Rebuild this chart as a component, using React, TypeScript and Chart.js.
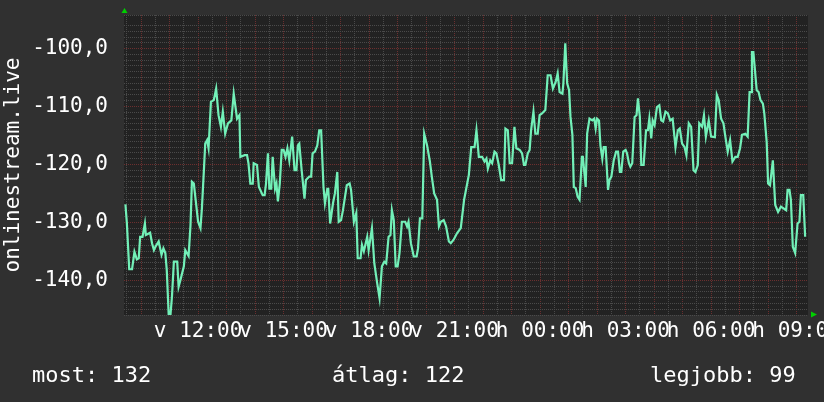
import React, { useEffect, useRef } from 'react';
import { Chart, registerables } from 'chart.js';

Chart.register(...registerables);

// minutes since 09:24 (window start), and signal values
const TIMES = [
  3, 6, 8, 11, 17, 22, 27, 31, 34, 39,
  44, 46, 55, 59, 63, 67, 73, 79, 83, 87,
  90, 94, 98, 101, 105, 112, 115, 119, 126, 129,
  136, 140, 143, 147, 156, 161, 164, 168, 171, 175,
  178, 183, 189, 194, 199, 204, 208, 213, 219, 226,
  231, 238, 243, 245, 254, 259, 262, 266, 271, 273,
  280, 284, 292, 296, 299, 303, 306, 310, 313, 318,
  321, 324, 328, 332, 336, 340, 344, 348, 354, 359,
  363, 366, 369, 374, 380, 383, 390, 394, 397, 402,
  407, 411, 415, 420, 423, 428, 430, 434, 440, 444,
  449, 452, 457, 461, 469, 475, 478, 484, 489, 492,
  498, 501, 505, 512, 515, 522, 527, 533, 538, 543,
  548, 552, 557, 561, 564, 568, 572, 576, 580, 585,
  592, 596, 599, 604, 610, 616, 619, 623, 628, 632,
  638, 644, 648, 653, 659, 663, 667, 673, 678, 684,
  688, 694, 701, 709, 716, 726, 731, 738, 742, 747,
  754, 759, 763, 766, 771, 775, 780, 784, 789, 794,
  800, 803, 808, 812, 817, 822, 826, 833, 838, 842,
  845, 850, 854, 857, 862, 866, 871, 875, 880, 887,
  892, 898, 903, 909, 913, 917, 923, 925, 929, 930,
  933, 937, 940, 944, 947, 951, 955, 959, 964, 966,
  969, 972, 975, 980, 986, 990, 993, 996, 1000, 1003,
  1007, 1010, 1014, 1019, 1022, 1026, 1031, 1036, 1040, 1044,
  1047, 1051, 1056, 1059, 1063, 1066, 1070, 1075, 1079, 1082,
  1086, 1089, 1094, 1099, 1103, 1106, 1110, 1113, 1117, 1122,
  1127, 1131, 1135, 1140, 1145, 1150, 1155, 1161, 1166, 1170,
  1175, 1180, 1184, 1189, 1194, 1199, 1203, 1208, 1211, 1217,
  1221, 1225, 1231, 1236, 1244, 1248, 1252, 1257, 1262, 1266,
  1271, 1276, 1281, 1287, 1292, 1297, 1301, 1308, 1313, 1317,
  1320, 1322, 1325, 1328, 1332, 1336, 1340, 1345, 1348, 1353,
  1356, 1360, 1366, 1371, 1377, 1383, 1394, 1397, 1401, 1404,
  1408, 1413, 1418, 1422, 1425, 1430, 1434,
];

const VALUES = [
  -126.9, -130.1, -133.3, -138.1, -138.1, -135.1, -136.4, -136.2, -132.5, -132.5,
  -130.2, -132.2, -131.8, -133.6, -134.8, -134.1, -133.3, -135.6, -134.5, -135.3,
  -138.2, -145.8, -145.8, -142.8, -136.8, -136.8, -141.1, -139.9, -137.6, -134.8,
  -135.8, -130.5, -123.0, -123.3, -129.9, -131.0, -127.6, -121.3, -116.4, -115.8,
  -117.2, -109.2, -108.9, -106.9, -111.5, -113.5, -110.9, -114.7, -112.9, -112.4,
  -107.8, -112.1, -111.5, -118.7, -118.4, -118.4, -119.8, -123.3, -123.3, -119.8,
  -120.1, -123.9, -125.3, -125.3, -123.3, -118.1, -124.2, -124.2, -118.7, -124.2,
  -123.3, -126.4, -123.3, -117.5, -117.5, -118.7, -117.2, -119.3, -115.2, -121.0,
  -121.0, -116.7, -116.4, -121.0, -125.9, -122.7, -122.1, -122.1, -118.1, -117.8,
  -116.7, -114.1, -114.1, -123.9, -126.7, -124.2, -124.2, -130.2, -126.7, -125.0,
  -121.3, -129.9, -129.6, -127.9, -123.6, -123.3, -124.4, -129.9, -128.4, -136.2,
  -136.2, -133.9, -135.0, -132.5, -134.8, -131.0, -137.1, -140.5, -143.1, -137.6,
  -136.8, -137.1, -132.5, -132.2, -127.9, -129.6, -137.6, -137.6, -135.3, -129.9,
  -129.9, -130.7, -129.9, -133.6, -135.9, -135.9, -134.5, -129.3, -129.3, -114.7,
  -116.7, -119.5, -122.1, -125.0, -126.1, -130.7, -129.9, -129.6, -130.7, -133.3,
  -133.6, -133.0, -131.9, -131.0, -126.1, -121.8, -117.0, -117.0, -114.1, -118.7,
  -118.7, -119.5, -119.0, -120.7, -119.3, -119.8, -117.8, -118.1, -120.1, -122.7,
  -122.7, -113.8, -114.1, -119.8, -119.8, -113.5, -117.2, -117.5, -118.1, -120.1,
  -120.1, -118.1, -117.5, -114.1, -110.9, -114.7, -114.7, -111.5, -111.2, -110.6,
  -104.6, -104.6, -106.9, -105.7, -104.3, -107.5, -107.8, -106.0, -99.1, -99.1,
  -106.0, -107.2, -111.8, -114.9, -123.9, -124.1, -125.6, -126.1, -118.7, -118.7,
  -121.3, -123.9, -114.7, -112.1, -112.4, -112.1, -113.8, -112.1, -112.4, -116.7,
  -119.0, -117.0, -117.0, -124.4, -122.7, -122.1, -119.3, -117.8, -117.8, -121.3,
  -121.3, -117.8, -117.5, -118.1, -119.8, -120.4, -119.8, -111.8, -111.5, -108.6,
  -111.8, -120.1, -120.1, -114.1, -114.1, -112.1, -115.5, -112.4, -113.2, -110.1,
  -109.8, -112.4, -112.6, -110.9, -111.2, -112.4, -112.1, -117.0, -114.1, -113.8,
  -116.4, -117.0, -118.4, -112.9, -113.5, -121.0, -121.3, -120.1, -112.9, -113.5,
  -111.5, -115.2, -112.4, -115.2, -115.3, -108.0, -108.9, -112.1, -112.9, -115.2,
  -117.8, -115.8, -119.5, -118.7, -118.7, -117.2, -114.9, -114.7, -115.2, -107.5,
  -107.5, -100.6, -100.6, -103.4, -107.2, -107.5, -108.9, -109.5, -111.2, -116.1,
  -123.3, -123.6, -119.3, -127.0, -128.2, -127.3, -127.9, -124.4, -124.4, -126.1,
  -134.2, -135.3, -130.2, -129.9, -125.3, -125.3, -132.5,
];

// x axis: minutes since 09:24
const X_MIN = 0;
const X_MAX = 1440;
const Y_MIN = -146.0;
const Y_MAX = -94.2;

// half-hour grid positions (09:30, 10:00, ...), full hours are major
const GRID_TIMES = [
  6, 36, 66, 96, 126, 156, 186, 216, 246, 276, 306, 336, 366, 396, 426, 456,
  486, 516, 546, 576, 606, 636, 666, 696, 726, 756, 786, 816, 846, 876, 906,
  936, 966, 996, 1026, 1056, 1086, 1116, 1146, 1176, 1206, 1236, 1266, 1296,
  1326, 1356, 1386, 1416,
];
const MAJOR_TIMES = [
  36, 96, 156, 216, 276, 336, 396, 456, 516, 576, 636, 696, 756, 816, 876,
  936, 996, 1056, 1116, 1176, 1236, 1296, 1356, 1416,
];
const LABEL_TIMES = [156, 336, 516, 696, 876, 1056, 1236, 1416];
const LABEL_TEXTS = ['v 12:00', 'v 15:00', 'v 18:00', 'v 21:00', 'h 00:00', 'h 03:00', 'h 06:00', 'h 09:00'];

const Y_TITLE = 'onlinestream.live';
const LEGEND_TEXTS = ['most: 132', 'átlag: 122', 'legjobb: 99'];
const LEGEND_X = [32, 332, 650];

const BG = '#303030';
const PLOT_BG = '#222222';
const GRID_MINOR = '#4a4a4a';
const GRID_MAJOR = '#6c2f2f';
const LINE_COLOR = '#72f0b8';
const TEXT_COLOR = '#ffffff';
const ARROW_COLOR = '#00d000';
const MONO = '"DejaVu Sans Mono", monospace';

const decorPlugin = {
  id: 'decor',
  beforeDraw(chart: any) {
    const { ctx, chartArea: a, width, height } = chart;
    ctx.save();
    ctx.fillStyle = BG;
    ctx.fillRect(0, 0, width, height);
    ctx.fillStyle = PLOT_BG;
    ctx.fillRect(a.left, a.top, a.right - a.left, a.bottom - a.top);
    ctx.restore();
  },
  afterDraw(chart: any) {
    const { ctx, chartArea: a } = chart;
    ctx.save();
    ctx.fillStyle = ARROW_COLOR;
    ctx.beginPath();
    ctx.moveTo(a.left + 0.5, a.top - 7);
    ctx.lineTo(a.left - 2.5, a.top - 2);
    ctx.lineTo(a.left + 3.5, a.top - 2);
    ctx.closePath();
    ctx.fill();
    ctx.beginPath();
    ctx.moveTo(a.right + 9, a.bottom - 0.5);
    ctx.lineTo(a.right + 3, a.bottom - 3.5);
    ctx.lineTo(a.right + 3, a.bottom + 2.5);
    ctx.closePath();
    ctx.fill();

    ctx.fillStyle = TEXT_COLOR;
    ctx.font = '22px ' + MONO;
    ctx.textAlign = 'left';
    ctx.textBaseline = 'alphabetic';
    LEGEND_TEXTS.forEach((t, i) => ctx.fillText(t, LEGEND_X[i], 381.5));
    ctx.restore();
  },
};

function isWhole(v: number) {
  return Math.abs(v - Math.round(v)) < 1e-6;
}

export default function App() {
  const ref = useRef<HTMLCanvasElement | null>(null);

  useEffect(() => {
    document.body.style.margin = '0';
    document.body.style.background = BG;
    const canvas = ref.current;
    if (!canvas) return;
    const chart = new Chart(canvas, {
      type: 'line',
      data: {
        datasets: [
          {
            data: TIMES.map((t, i) => ({ x: t, y: VALUES[i] })),
            borderColor: LINE_COLOR,
            borderWidth: 2.2,
            pointRadius: 0,
            tension: 0,
            fill: false,
            clip: 0,
          } as any,
        ],
      },
      options: {
        animation: false,
        responsive: false,
        devicePixelRatio: 1,
        layout: { padding: { left: 0, right: 16, top: 15, bottom: 0 } },
        plugins: { legend: { display: false }, tooltip: { enabled: false } },
        scales: {
          x: {
            type: 'linear',
            min: X_MIN,
            max: X_MAX,
            afterBuildTicks: (s: any) => {
              s.ticks = GRID_TIMES.map((v) => ({ value: v }));
            },
            afterFit: (s: any) => {
              s.height = 87;
              s.paddingLeft = 0;
              s.paddingRight = 0;
            },
            ticks: {
              autoSkip: false,
              maxRotation: 0,
              minRotation: 0,
              padding: 4,
              color: TEXT_COLOR,
              font: { family: MONO, size: 21 },
              callback: (v: any) => {
                const i = LABEL_TIMES.indexOf(Number(v));
                return i >= 0 ? LABEL_TEXTS[i] : '';
              },
            },
            grid: {
              drawTicks: false,
              lineWidth: 1,
              color: (c: any) =>
                c.tick && MAJOR_TIMES.indexOf(c.tick.value) >= 0 ? GRID_MAJOR : GRID_MINOR,
            },
            border: { display: false, dash: [1, 1] },
          } as any,
          y: {
            type: 'linear',
            min: Y_MIN,
            max: Y_MAX,
            afterFit: (s: any) => {
              s.width = 124;
              s.paddingTop = 0;
              s.paddingBottom = 0;
            },
            ticks: {
              stepSize: 1,
              autoSkip: false,
              padding: 16,
              color: TEXT_COLOR,
              font: { family: MONO, size: 21 },
              callback: (v: any) => {
                const n = Number(v);
                if (isWhole(n) && Math.round(n) % 10 === 0) {
                  return n.toFixed(1).replace('.', ',');
                }
                return '';
              },
            },
            grid: {
              drawTicks: false,
              lineWidth: 1,
              color: (c: any) => {
                const n = c.tick ? c.tick.value : 0;
                return isWhole(n) && Math.round(n) % 10 === 0 ? GRID_MAJOR : GRID_MINOR;
              },
            },
            border: { display: false, dash: [1, 1] },
            title: {
              display: true,
              text: Y_TITLE,
              color: TEXT_COLOR,
              font: { family: MONO, size: 21 },
              padding: { top: 1, bottom: 0 },
            },
          } as any,
        },
      },
      plugins: [decorPlugin],
    });
    return () => chart.destroy();
  }, []);

  return (
    <div style={{ width: 824, height: 402, background: BG }}>
      <canvas ref={ref} width={824} height={402} style={{ display: 'block' }} />
    </div>
  );
}
